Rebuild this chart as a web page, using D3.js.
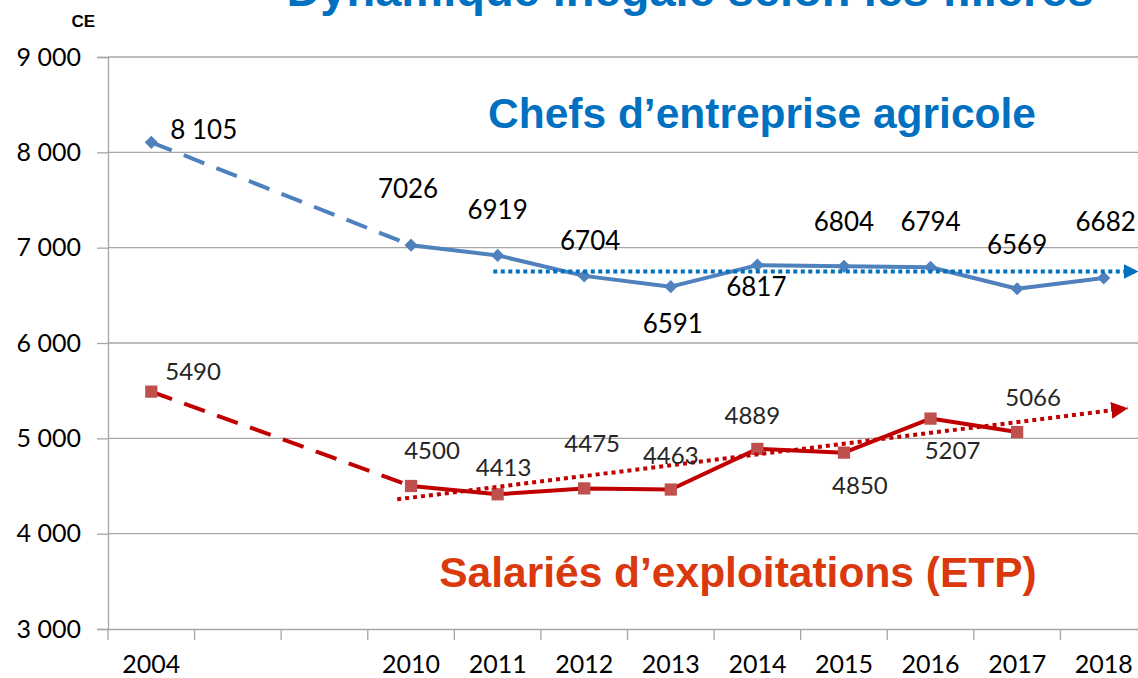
<!DOCTYPE html>
<html>
<head>
<meta charset="utf-8">
<script src="https://cdn.jsdelivr.net/npm/d3@7"></script>
<style>
  html, body { margin: 0; padding: 0; background: #fff; overflow: hidden; }
  svg { display: block; }
  .tick text { font-family: Lato, "Open Sans", sans-serif; }
</style>
</head>
<body>
<div id="chart"></div>
<script>
// catégories (trois colonnes vides entre 2004 et 2010)
const categories = ['2004', '', '', '2010', '2011', '2012', '2013', '2014', '2015', '2016', '2017', '2018'];
const chefs = [8105, null, null, 7026, 6919, 6704, 6591, 6817, 6804, 6794, 6569, 6682];
const salaries = [5490, null, null, 4500, 4413, 4475, 4463, 4889, 4850, 5207, 5066, null];
const chefsLabels = ['8 105', '', '', '7026', '6919', '6704', '6591', '6817', '6804', '6794', '6569', '6682'];
const yTicks = [3000, 4000, 5000, 6000, 7000, 8000, 9000];
// tendances : [position sur l'axe des catégories, valeur]
const chefsTrend = [[3.95, 6750], [11.4, 6750]];
const salariesTrend = [[2.84, 4360], [11.28, 5315]];

const width = 1138, height = 678;
const margin = { top: 57, left: 108 };
const plotH = 572;
const plotW = 1039;

const svg = d3.select('#chart').append('svg')
    .attr('width', width)
    .attr('height', height);

const defs = svg.append('defs');
[['arrowBlue', '#0070C0', 3.6], ['arrowRed', '#C00000', 4.2]].forEach(([id, c, s]) => {
    defs.append('marker')
        .attr('id', id)
        .attr('viewBox', '0 0 10 10')
        .attr('refX', 10).attr('refY', 5)
        .attr('markerWidth', s).attr('markerHeight', s)
        .attr('markerUnits', 'strokeWidth')
        .attr('orient', 'auto')
        .append('path')
        .attr('d', 'M0,0 L10,5 L0,10 Z')
        .attr('fill', c);
});

const g = svg.append('g')
    .attr('transform', `translate(${margin.left},${margin.top})`);

// échelles
const x = d3.scaleBand()
    .domain(d3.range(categories.length))
    .range([0, plotW])
    .paddingInner(0).paddingOuter(0);
const xPos = i => x(0) + (i + 0.5) * x.step();

const y = d3.scaleLinear()
    .domain([3000, 9000])
    .range([plotH, 0]);

// grille horizontale
g.append('g')
    .selectAll('line')
    .data(yTicks.slice(1))
    .join('line')
    .attr('x1', 0).attr('x2', plotW)
    .attr('y1', d => y(d)).attr('y2', d => y(d))
    .attr('stroke', '#a6a6a6')
    .attr('stroke-width', 1.3);

// axe Y
const yAxis = d3.axisLeft(y)
    .tickValues(yTicks)
    .tickSize(11)
    .tickPadding(16)
    .tickFormat(d => d3.format(',')(d).replace(',', ' '));
const yAxisG = g.append('g').call(yAxis);
yAxisG.select('.domain').attr('stroke', '#a6a6a6').attr('stroke-width', 1.3);
yAxisG.selectAll('.tick line').attr('stroke', '#a6a6a6').attr('stroke-width', 1.3);
yAxisG.selectAll('.tick text')
    .attr('font-size', 25)
    .attr('fill', '#000');

// axe X
const xAxis = d3.axisBottom(x)
    .tickSize(0)
    .tickPadding(26)
    .tickFormat(i => categories[i]);
const xAxisG = g.append('g')
    .attr('transform', `translate(0,${plotH})`)
    .call(xAxis);
xAxisG.select('.domain').attr('stroke', '#a6a6a6').attr('stroke-width', 1.3);
xAxisG.selectAll('.tick text')
    .attr('font-size', 25)
    .attr('fill', '#000');
// petits traits entre catégories
xAxisG.append('g')
    .selectAll('line')
    .data(d3.range(categories.length))
    .join('line')
    .attr('x1', i => x(i)).attr('x2', i => x(i))
    .attr('y1', 0).attr('y2', 11)
    .attr('stroke', '#a6a6a6')
    .attr('stroke-width', 1.3);

// tracé des séries
function drawSeries(values, color, markerColor, shape) {
    const pts = values.map((v, i) => ({ i, v })).filter(d => d.v !== null);
    const line = d3.line().x(d => xPos(d.i)).y(d => y(d.v));
    // pointillés entre 2004 et 2010
    g.append('path')
        .datum(pts.slice(0, 2))
        .attr('d', line)
        .attr('fill', 'none')
        .attr('stroke', color)
        .attr('stroke-width', 4)
        .attr('stroke-dasharray', '22 13');
    g.append('path')
        .datum(pts.slice(1))
        .attr('d', line)
        .attr('fill', 'none')
        .attr('stroke', color)
        .attr('stroke-width', 4)
        .attr('stroke-linejoin', 'round');
    g.append('g')
        .selectAll('path')
        .data(pts)
        .join('path')
        .attr('transform', d => `translate(${xPos(d.i)},${y(d.v)})`)
        .attr('d', d3.symbol().type(shape).size(shape === d3.symbolSquare ? 150 : 110))
        .attr('fill', markerColor);
}

function drawTrend(pts, color, markerId, dash) {
    g.append('path')
        .datum(pts)
        .attr('d', d3.line().x(d => xPos(d[0])).y(d => y(d[1])))
        .attr('fill', 'none')
        .attr('stroke', color)
        .attr('stroke-width', 4)
        .attr('stroke-dasharray', dash)
        .attr('marker-end', `url(#${markerId})`);
}

drawSeries(chefs, '#4F81BD', '#4F81BD', d3.symbolDiamond2);
drawTrend(chefsTrend, '#0070C0', 'arrowBlue', '4 3.5');
drawSeries(salaries, '#C00000', '#C0504D', d3.symbolSquare);
drawTrend(salariesTrend, '#C00000', 'arrowRed', '4 4');

// étiquettes de valeurs (décalage en pixels par point)
const chefsOffsets = [[19, -10, 'start'], 0, 0, [-3, -54], [0, -43], [6, -32], [2, 40], [-1, 24], [0, -42], [0, -43], [0, -41], [2, -54]];
const salariesOffsets = [[14, -18, 'start'], 0, 0, [21, -33], [6, -24], [8, -42], [0, -32], [-5, -31], [16, 35], [22, 34], [16, -32], 0];

function drawLabels(values, texts, offsets, size, color) {
    const data = values.map((v, i) => ({ i, v, t: texts ? texts[i] : String(v), o: offsets[i] }))
        .filter(d => d.v !== null && d.o);
    g.append('g')
        .selectAll('text')
        .data(data)
        .join('text')
        .attr('x', d => xPos(d.i) + d.o[0])
        .attr('y', d => y(d.v) + d.o[1])
        .attr('text-anchor', d => d.o[2] || 'middle')
        .attr('dominant-baseline', 'middle')
        .attr('font-family', 'Lato, "Open Sans", sans-serif')
        .attr('font-size', size)
        .attr('fill', color)
        .text(d => d.t);
}
drawLabels(chefs, chefsLabels, chefsOffsets, 26, '#000');
drawLabels(salaries, null, salariesOffsets, 24, '#262626');

// textes
svg.append('text')
    .attr('x', 95).attr('y', 27)
    .attr('text-anchor', 'end')
    .attr('font-family', '"Liberation Sans", Arial, sans-serif')
    .attr('font-weight', 'bold')
    .attr('font-size', 17)
    .text('CE');

svg.append('text')
    .attr('x', 690).attr('y', 6)
    .attr('text-anchor', 'middle')
    .attr('font-family', '"Liberation Sans", Arial, sans-serif')
    .attr('font-weight', 'bold')
    .attr('font-size', 47)
    .attr('fill', '#0070C0')
    .text('Dynamique inégale selon les filières');

svg.append('text')
    .attr('x', 762).attr('y', 128)
    .attr('text-anchor', 'middle')
    .attr('font-family', '"Liberation Sans", Arial, sans-serif')
    .attr('font-weight', 'bold')
    .attr('font-size', 42.5)
    .attr('fill', '#0070C0')
    .text('Chefs d’entreprise agricole');

svg.append('text')
    .attr('x', 738).attr('y', 587)
    .attr('text-anchor', 'middle')
    .attr('font-family', '"Liberation Sans", Arial, sans-serif')
    .attr('font-weight', 'bold')
    .attr('font-size', 42.5)
    .attr('fill', '#D9390D')
    .text('Salariés d’exploitations (ETP)');
</script>
</body>
</html>
